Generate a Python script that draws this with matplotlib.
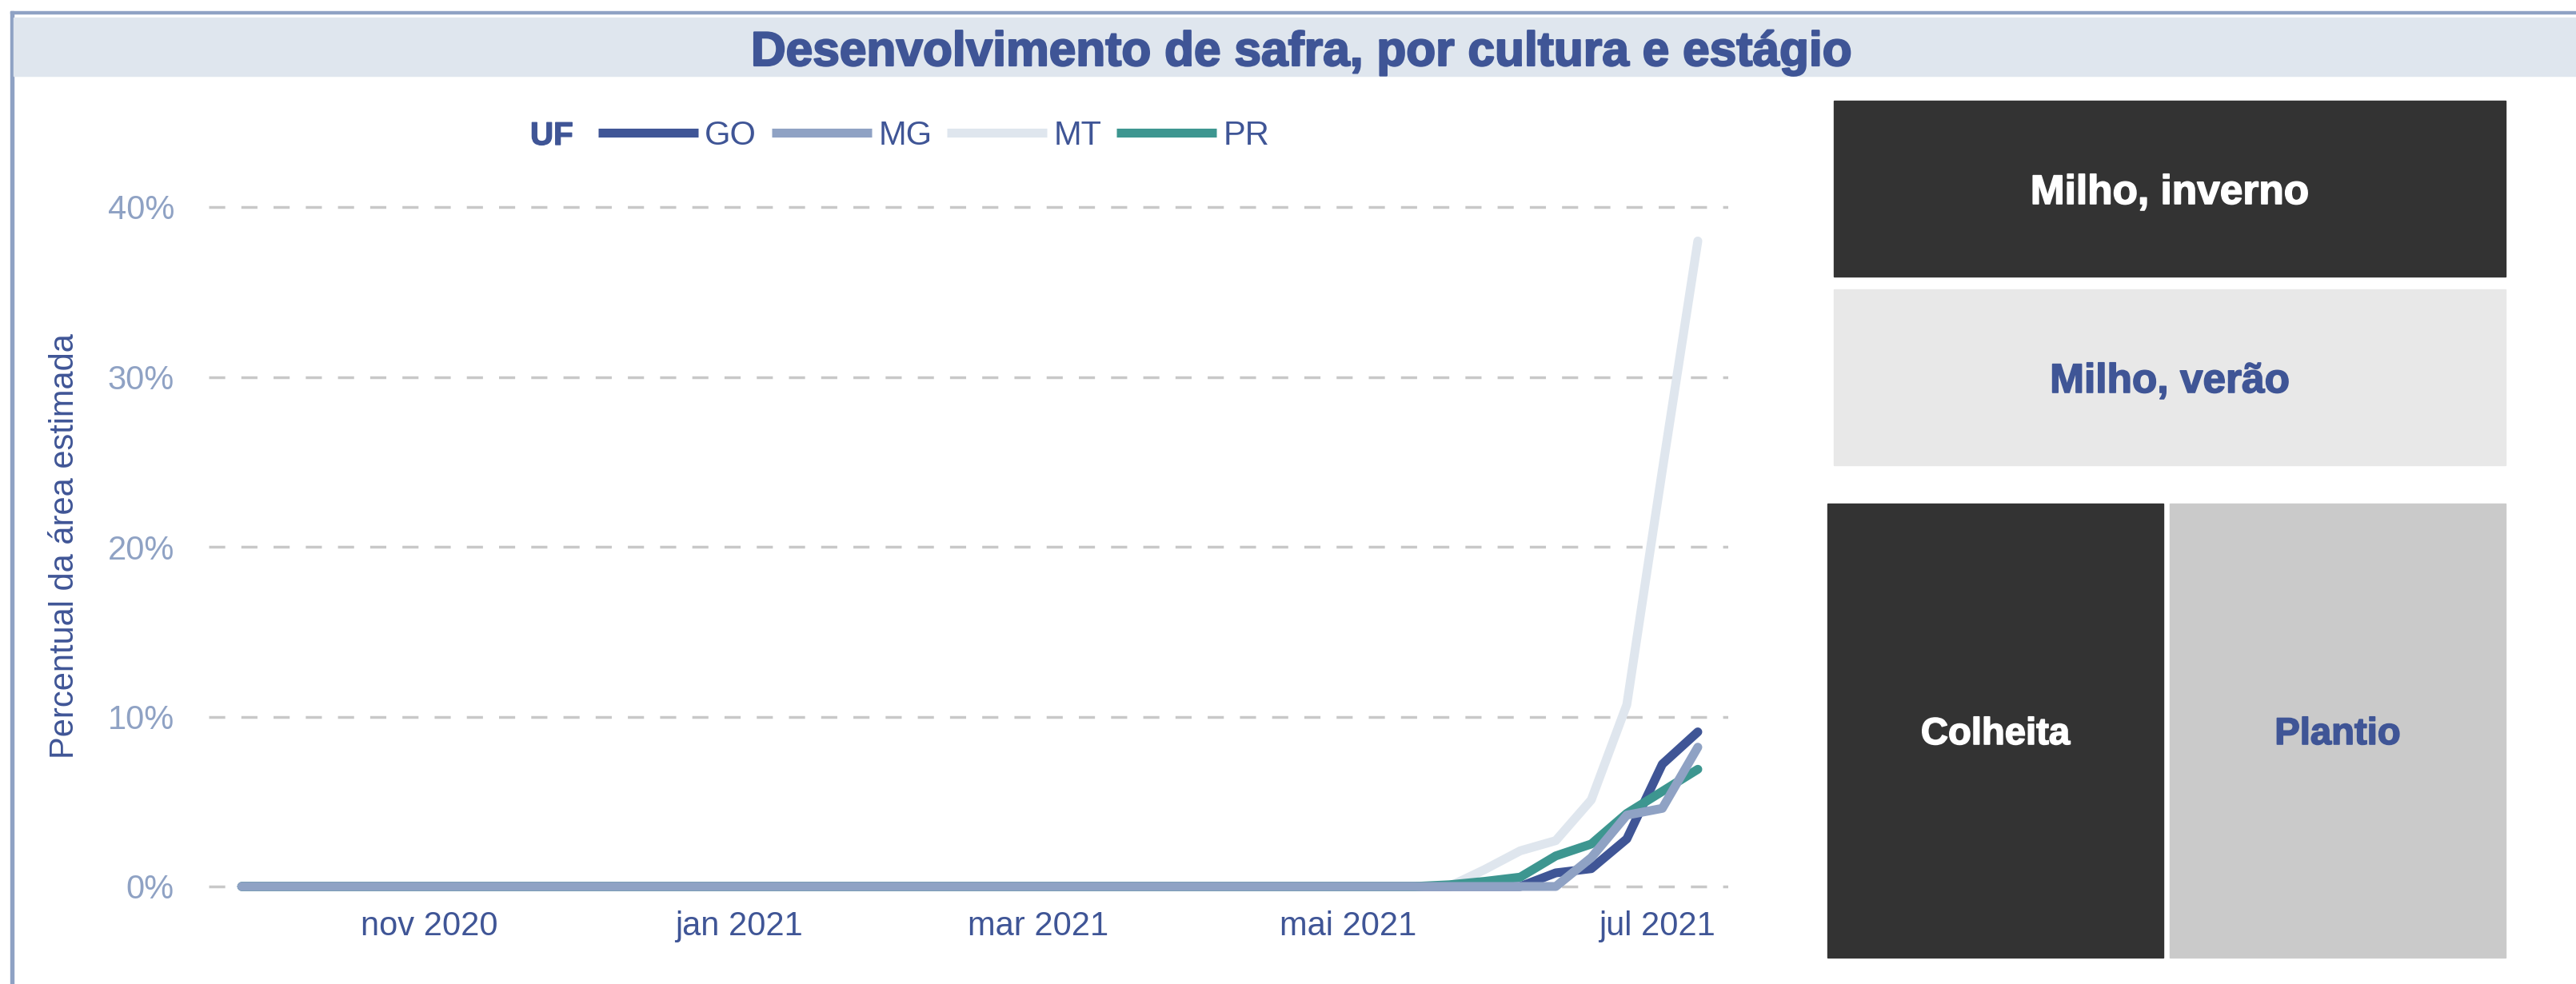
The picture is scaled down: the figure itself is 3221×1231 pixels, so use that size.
import matplotlib
matplotlib.use("Agg")
import matplotlib.pyplot as plt
import matplotlib.patheffects as pe
import pandas as pd
from matplotlib.lines import Line2D
from matplotlib.patches import Rectangle

# figure size in pixels (dpi 100)
W, H = 3221, 1231

# ---- data ----
dates = pd.date_range("2020-09-25", periods=42, freq="7D")

uf_labels = ["GO", "MG", "MT", "PR"]
go = [0, 0, 0, 0, 0, 0, 0, 0, 0, 0,
      0, 0, 0, 0, 0, 0, 0, 0, 0, 0,
      0, 0, 0, 0, 0, 0, 0, 0, 0, 0,
      0, 0, 0, 0, 0, 0, 0, 0.8, 1.05, 2.8,
      7.2, 9.1]
mg = [0, 0, 0, 0, 0, 0, 0, 0, 0, 0,
      0, 0, 0, 0, 0, 0, 0, 0, 0, 0,
      0, 0, 0, 0, 0, 0, 0, 0, 0, 0,
      0, 0, 0, 0, 0, 0, 0, 0, 1.7, 4.2,
      4.6, 8.2]
mt = [0, 0, 0, 0, 0, 0, 0, 0, 0, 0,
      0, 0, 0, 0, 0, 0, 0, 0, 0, 0,
      0, 0, 0, 0, 0, 0, 0, 0, 0, 0,
      0, 0, 0, 0, 0, 1.0, 2.1, 2.7, 5.1, 10.7,
      24.5, 38.0]
pr = [0, 0, 0, 0, 0, 0, 0, 0, 0, 0,
      0, 0, 0, 0, 0, 0, 0, 0, 0, 0,
      0, 0, 0, 0, 0, 0, 0, 0, 0, 0,
      0, 0, 0, 0, 0.1, 0.3, 0.55, 1.8, 2.5, 4.3,
      5.6, 6.9]

xtick_dates = pd.to_datetime(["2020-11-01", "2021-01-01", "2021-03-01",
                              "2021-05-01", "2021-07-01"])
xtick_labels = ["nov 2020", "jan 2021", "mar 2021", "mai 2021", "jul 2021"]
ytick_values = [0, 10, 20, 30, 40]
ytick_labels = ["0%", "10%", "20%", "30%", "40%"]

title = "Desenvolvimento de safra, por cultura e estágio"
ylabel = "Percentual da área estimada"
cultures = ["Milho, inverno", "Milho, verão"]
stages = ["Colheita", "Plantio"]

# ---- style ----
DARK = "#3F5596"
MID = "#8FA2C4"
PALE = "#DFE6EE"
TEAL = "#3D9690"
colors = {"GO": DARK, "MG": MID, "MT": PALE, "PR": TEAL}
plt.rcParams["font.family"] = ["Liberation Sans", "DejaVu Sans"]


def fx(px):
    return px / W


def fy(py):
    return 1 - py / H


def heavy(color, w=1.6):
    # fake a heavier bold weight
    return [pe.withStroke(linewidth=w, foreground=color)]


fig = plt.figure(figsize=(W / 100, H / 100), dpi=100)

# outer frame and title band
fig.patches.append(Rectangle((fx(13), 0), 4 / W, fy(14), transform=fig.transFigure,
                             color=MID, zorder=0))
fig.patches.append(Rectangle((fx(13), fy(17)), 1, 3 / H, transform=fig.transFigure,
                             color=MID, zorder=0))
fig.patches.append(Rectangle((fx(17), fy(95)), 1, 73 / H, transform=fig.transFigure,
                             color=PALE, zorder=0))
fig.text(fx(1627), fy(82), title, ha="center", va="baseline", fontsize=43.5,
         fontweight="bold", color=DARK, path_effects=heavy(DARK))

# ---- line chart ----
ax = fig.add_axes([fx(261), fy(1130.25), (2161 - 261) / W, (1130.25 - 216.5) / H])
lw = 8
series = {"GO": go, "MG": mg, "MT": mt, "PR": pr}
# MT at the back, MG on top
for z, key in zip([3, 5, 2, 4], uf_labels):
    ax.plot(dates, series[key], color=colors[key], lw=lw, solid_capstyle="round",
            solid_joinstyle="round", zorder=z)

ax.set_xlim(pd.Timestamp("2020-09-18 12:00"), pd.Timestamp("2021-07-15"))
ax.set_ylim(-1, 42)
ax.set_xticks(xtick_dates)
ax.set_xticklabels(xtick_labels)
ax.set_yticks(ytick_values)
ax.set_yticklabels(ytick_labels)
ax.tick_params(axis="x", length=0, pad=6, labelsize=30, labelcolor=DARK)
ax.tick_params(axis="y", length=0, pad=31, labelsize=30, labelcolor=MID)
ax.yaxis.grid(True, color="#C8C8C8", linewidth=2.5, linestyle=(0, (5.8, 5.8)))
ax.set_axisbelow(True)
for s in ax.spines.values():
    s.set_visible(False)

fig.text(fx(81), fy(683), ylabel, rotation=90, ha="center", va="center",
         fontsize=30, color=DARK)

# legend (flat-ended swatches)
proxies = [Line2D([], [], color=colors[k], lw=lw, solid_capstyle="butt") for k in uf_labels]
fig.text(fx(663), fy(170), "UF", ha="left", va="center", fontsize=29,
         fontweight="bold", color=DARK, path_effects=heavy(DARK, 1.0))
fig.legend(proxies, uf_labels, loc="center left",
           bbox_to_anchor=(fx(748), fy(170)), ncol=4, frameon=False, fontsize=30,
           handlelength=3.0, handletextpad=0.2, columnspacing=0.45, borderpad=0,
           borderaxespad=0, labelcolor=DARK)

# ---- slicer tiles ----
tiles = [
    (cultures[0], 2293, 126, 840, 220, "#333333", "white", 37),
    (cultures[1], 2293, 362, 840, 220, "#E8E8E8", DARK, 37),
    (stages[0], 2285, 630, 420, 568, "#333333", "white", 34),
    (stages[1], 2713, 630, 420, 568, "#CACACA", DARK, 34),
]
for label, x0, y0, w, h, bg, fg, size in tiles:
    fig.patches.append(Rectangle((fx(x0), fy(y0 + h)), w / W, h / H,
                                 transform=fig.transFigure, color=bg, zorder=0))
    fig.text(fx(x0 + w / 2), fy(y0 + h / 2), label, ha="center", va="center_baseline",
             fontsize=size, fontweight="bold", color=fg, path_effects=heavy(fg, 1.2))

fig.savefig("out.png", dpi=100)
